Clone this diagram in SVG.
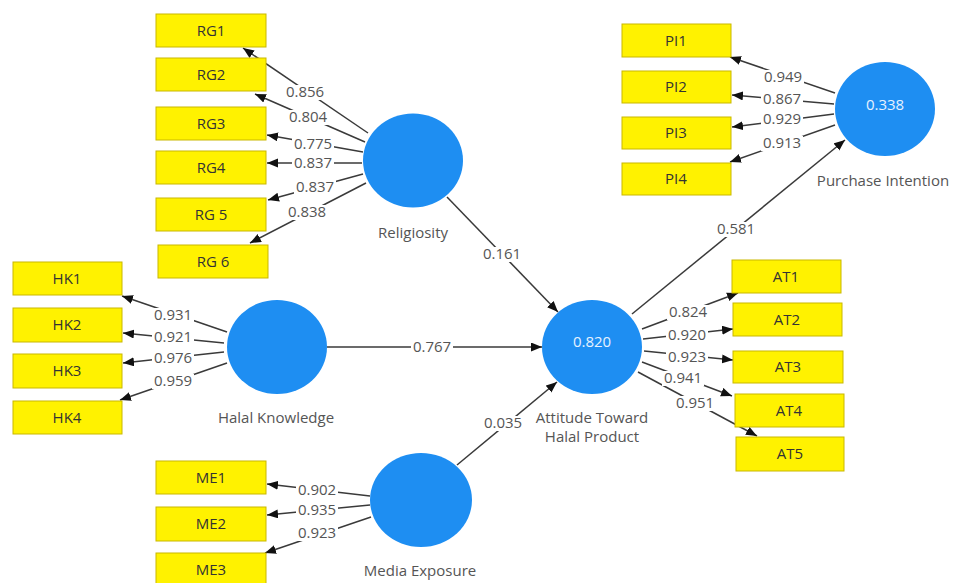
<svg xmlns="http://www.w3.org/2000/svg" width="958" height="583" viewBox="0 0 958 583">
<style>
.box{fill:#FFF200;stroke:#C9B800;stroke-width:1}
.bt{font-family:"Open Sans","Noto Sans",sans-serif;font-size:15px;fill:#333;text-anchor:middle}
.lv{fill:#1E8EF2}
.lt{font-family:"Open Sans","Noto Sans",sans-serif;font-size:15px;fill:#555;text-anchor:middle}
.r2{font-family:"Open Sans","Noto Sans",sans-serif;font-size:15px;fill:#E6F2FF;text-anchor:middle}
.c{stroke:#3a3a3a;stroke-width:1.5;fill:none;marker-end:url(#ah)}
.w{font-family:"Open Sans","Noto Sans",sans-serif;font-size:15px;fill:#555;text-anchor:middle}
.bg{fill:#fff}
</style>
<defs>
<marker id="ah" markerUnits="userSpaceOnUse" markerWidth="12" markerHeight="10" refX="11" refY="4.5" orient="auto">
<path d="M0,0 L11,4.5 L0,9 z" fill="#111"/>
</marker>
</defs>
<rect width="958" height="583" fill="#fff"/>
<g id="connectors">
<line class="c" x1="368" y1="133" x2="243" y2="48"/>
<line class="c" x1="365" y1="142" x2="255" y2="94"/>
<line class="c" x1="363" y1="152" x2="267" y2="135"/>
<line class="c" x1="362" y1="163" x2="267" y2="163"/>
<line class="c" x1="363" y1="174" x2="268" y2="200"/>
<line class="c" x1="366" y1="183" x2="250" y2="243"/>
<line class="c" x1="227" y1="332" x2="122" y2="296"/>
<line class="c" x1="224" y1="343" x2="123" y2="333"/>
<line class="c" x1="224" y1="352" x2="123" y2="363"/>
<line class="c" x1="227" y1="363" x2="120" y2="400"/>
<line class="c" x1="370" y1="496" x2="267" y2="484"/>
<line class="c" x1="370" y1="505" x2="267" y2="515"/>
<line class="c" x1="371" y1="517" x2="265" y2="553"/>
<line class="c" x1="447" y1="197" x2="558" y2="312"/>
<line class="c" x1="327" y1="347" x2="542" y2="347"/>
<line class="c" x1="457" y1="465" x2="557" y2="382"/>
<line class="c" x1="632" y1="314" x2="845" y2="140"/>
<line class="c" x1="835" y1="93" x2="730" y2="57"/>
<line class="c" x1="834" y1="104" x2="732" y2="95"/>
<line class="c" x1="834" y1="114" x2="732" y2="127"/>
<line class="c" x1="835" y1="125" x2="730" y2="162"/>
<line class="c" x1="642" y1="329" x2="738" y2="293"/>
<line class="c" x1="643" y1="339" x2="733" y2="329"/>
<line class="c" x1="644" y1="351" x2="733" y2="360"/>
<line class="c" x1="642" y1="362" x2="732" y2="396"/>
<line class="c" x1="638" y1="372" x2="757" y2="436"/>
<rect class="bg" x="284" y="85" width="42" height="15"/>
<rect class="bg" x="287" y="110" width="42" height="15"/>
<rect class="bg" x="292" y="137" width="42" height="15"/>
<rect class="bg" x="292" y="156" width="42" height="15"/>
<rect class="bg" x="294" y="180" width="42" height="15"/>
<rect class="bg" x="286" y="205" width="42" height="15"/>
<rect class="bg" x="152" y="308" width="42" height="15"/>
<rect class="bg" x="152" y="330" width="42" height="15"/>
<rect class="bg" x="152" y="351" width="42" height="15"/>
<rect class="bg" x="152" y="374" width="42" height="15"/>
<rect class="bg" x="296" y="483" width="42" height="15"/>
<rect class="bg" x="296" y="503" width="42" height="15"/>
<rect class="bg" x="296" y="526" width="42" height="15"/>
<rect class="bg" x="481" y="247" width="42" height="15"/>
<rect class="bg" x="411" y="340" width="42" height="15"/>
<rect class="bg" x="482" y="416" width="42" height="15"/>
<rect class="bg" x="715" y="222" width="42" height="15"/>
<rect class="bg" x="762" y="70" width="42" height="15"/>
<rect class="bg" x="761" y="92" width="42" height="15"/>
<rect class="bg" x="761" y="112" width="42" height="15"/>
<rect class="bg" x="761" y="136" width="42" height="15"/>
<rect class="bg" x="667" y="305" width="42" height="15"/>
<rect class="bg" x="666" y="328" width="42" height="15"/>
<rect class="bg" x="666" y="350" width="42" height="15"/>
<rect class="bg" x="662" y="371" width="42" height="15"/>
<rect class="bg" x="674" y="396" width="42" height="15"/>
<text class="w" x="305" y="92" dy="0.35em">0.856</text>
<text class="w" x="308" y="117" dy="0.35em">0.804</text>
<text class="w" x="313" y="144" dy="0.35em">0.775</text>
<text class="w" x="313" y="163" dy="0.35em">0.837</text>
<text class="w" x="315" y="187" dy="0.35em">0.837</text>
<text class="w" x="307" y="212" dy="0.35em">0.838</text>
<text class="w" x="173" y="315" dy="0.35em">0.931</text>
<text class="w" x="173" y="337" dy="0.35em">0.921</text>
<text class="w" x="173" y="358" dy="0.35em">0.976</text>
<text class="w" x="173" y="381" dy="0.35em">0.959</text>
<text class="w" x="317" y="490" dy="0.35em">0.902</text>
<text class="w" x="317" y="510" dy="0.35em">0.935</text>
<text class="w" x="317" y="533" dy="0.35em">0.923</text>
<text class="w" x="502" y="254" dy="0.35em">0.161</text>
<text class="w" x="432" y="347" dy="0.35em">0.767</text>
<text class="w" x="503" y="423" dy="0.35em">0.035</text>
<text class="w" x="736" y="229" dy="0.35em">0.581</text>
<text class="w" x="783" y="77" dy="0.35em">0.949</text>
<text class="w" x="782" y="99" dy="0.35em">0.867</text>
<text class="w" x="782" y="119" dy="0.35em">0.929</text>
<text class="w" x="782" y="143" dy="0.35em">0.913</text>
<text class="w" x="688" y="312" dy="0.35em">0.824</text>
<text class="w" x="687" y="335" dy="0.35em">0.920</text>
<text class="w" x="687" y="357" dy="0.35em">0.923</text>
<text class="w" x="683" y="378" dy="0.35em">0.941</text>
<text class="w" x="695" y="403" dy="0.35em">0.951</text>
</g>
<g id="RG1"><rect class="box" x="156" y="14" width="110" height="33"/><text class="bt" x="211" y="30.5" dy="0.35em">RG1</text></g>
<g id="RG2"><rect class="box" x="156" y="58" width="110" height="33"/><text class="bt" x="211" y="74.5" dy="0.35em">RG2</text></g>
<g id="RG3"><rect class="box" x="156" y="107" width="110" height="33"/><text class="bt" x="211" y="123.5" dy="0.35em">RG3</text></g>
<g id="RG4"><rect class="box" x="156" y="151" width="110" height="33"/><text class="bt" x="211" y="167.5" dy="0.35em">RG4</text></g>
<g id="RG5"><rect class="box" x="156" y="198" width="110" height="33"/><text class="bt" x="211" y="214.5" dy="0.35em">RG 5</text></g>
<g id="RG6"><rect class="box" x="158" y="245" width="110" height="33"/><text class="bt" x="213" y="261.5" dy="0.35em">RG 6</text></g>
<g id="HK1"><rect class="box" x="13" y="262" width="109" height="33"/><text class="bt" x="67" y="278.5" dy="0.35em">HK1</text></g>
<g id="HK2"><rect class="box" x="13" y="308" width="109" height="34"/><text class="bt" x="67" y="325" dy="0.35em">HK2</text></g>
<g id="HK3"><rect class="box" x="13" y="354" width="109" height="34"/><text class="bt" x="67" y="371" dy="0.35em">HK3</text></g>
<g id="HK4"><rect class="box" x="13" y="401" width="109" height="33"/><text class="bt" x="67" y="417.5" dy="0.35em">HK4</text></g>
<g id="ME1"><rect class="box" x="156" y="461" width="110" height="33"/><text class="bt" x="211" y="477.5" dy="0.35em">ME1</text></g>
<g id="ME2"><rect class="box" x="156" y="507" width="110" height="34"/><text class="bt" x="211" y="524" dy="0.35em">ME2</text></g>
<g id="ME3"><rect class="box" x="156" y="553" width="110" height="34"/><text class="bt" x="211" y="570" dy="0.35em">ME3</text></g>
<g id="PI1"><rect class="box" x="622" y="24" width="109" height="33"/><text class="bt" x="676" y="40.5" dy="0.35em">PI1</text></g>
<g id="PI2"><rect class="box" x="622" y="71" width="109" height="32"/><text class="bt" x="676" y="87" dy="0.35em">PI2</text></g>
<g id="PI3"><rect class="box" x="622" y="117" width="109" height="32"/><text class="bt" x="676" y="133" dy="0.35em">PI3</text></g>
<g id="PI4"><rect class="box" x="622" y="163" width="109" height="32"/><text class="bt" x="676" y="179" dy="0.35em">PI4</text></g>
<g id="AT1"><rect class="box" x="732" y="260" width="109" height="33"/><text class="bt" x="786" y="276.5" dy="0.35em">AT1</text></g>
<g id="AT2"><rect class="box" x="733" y="303" width="109" height="33"/><text class="bt" x="787" y="319.5" dy="0.35em">AT2</text></g>
<g id="AT3"><rect class="box" x="733" y="351" width="110" height="32"/><text class="bt" x="788" y="367" dy="0.35em">AT3</text></g>
<g id="AT4"><rect class="box" x="735" y="394" width="109" height="33"/><text class="bt" x="789" y="410.5" dy="0.35em">AT4</text></g>
<g id="AT5"><rect class="box" x="736" y="437" width="108" height="34"/><text class="bt" x="790" y="454" dy="0.35em">AT5</text></g>
<g id="Religiosity"><ellipse class="lv" cx="413" cy="160.5" rx="50" ry="47"/><text class="lt" x="413" y="233" dy="0.35em">Religiosity</text></g>
<g id="HalalKnowledge"><ellipse class="lv" cx="277" cy="347" rx="50" ry="47"/><text class="lt" x="276" y="418" dy="0.35em">Halal Knowledge</text></g>
<g id="MediaExposure"><ellipse class="lv" cx="421" cy="500" rx="51" ry="47"/><text class="lt" x="420" y="571" dy="0.35em">Media Exposure</text></g>
<g id="Attitude"><ellipse class="lv" cx="592" cy="347" rx="50" ry="47"/><text class="r2" x="592" y="342" dy="0.35em">0.820</text><text class="lt" x="592" y="418" dy="0.35em">Attitude Toward</text><text class="lt" x="592" y="437" dy="0.35em">Halal Product</text></g>
<g id="PurchaseIntention"><ellipse class="lv" cx="885" cy="109" rx="50" ry="47"/><text class="r2" x="885" y="105" dy="0.35em">0.338</text><text class="lt" x="883" y="181" dy="0.35em">Purchase Intention</text></g>
</svg>
